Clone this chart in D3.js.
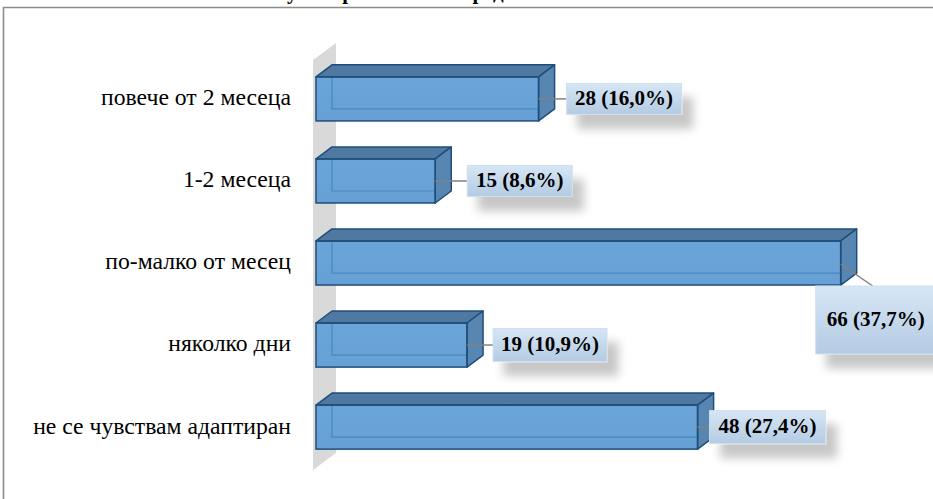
<!DOCTYPE html>
<html><head><meta charset="utf-8">
<script src="https://cdn.jsdelivr.net/npm/d3@7"></script>
<style>
html,body{margin:0;padding:0;background:#fff;overflow:hidden;}
svg{display:block;}
</style></head>
<body>
<svg id="chart" width="933" height="499"></svg>
<script>
// ---- data ----
const categories = ["повече от 2 месеца", "1-2 месеца", "по-малко от месец", "няколко дни", "не се чувствам адаптиран"];
const counts = [28, 15, 66, 19, 48];
const percents = ["16,0%", "8,6%", "37,7%", "10,9%", "27,4%"];
const titleText = "Как свикнахте с университетската среда";

const SERIF = "Liberation Serif";

// ---- layout ----
const svg = d3.select("#chart");
const W = 933, H = 499;
const depthX = 16, depthY = -12;
const x = d3.scaleLinear().domain([0, 70]).range([316, 872.5]);
const y = d3.scaleBand().domain(categories).range([58, 468]).paddingInner(0.463).paddingOuter(0.23);

const defs = svg.append("defs");
const lg = defs.append("linearGradient").attr("id","lblGrad").attr("x1",0).attr("y1",0).attr("x2",0).attr("y2",1);
lg.append("stop").attr("offset","0%").attr("stop-color","#d6e6f5");
lg.append("stop").attr("offset","100%").attr("stop-color","#b4cbe3");
const fg = defs.append("linearGradient").attr("id","frontGrad").attr("x1",0).attr("y1",0).attr("x2",0).attr("y2",1);
fg.append("stop").attr("offset","0%").attr("stop-color","#6ba4d8");
fg.append("stop").attr("offset","100%").attr("stop-color","#67a0d4");
const sh = defs.append("filter").attr("id","shadow").attr("x","-30%").attr("y","-50%").attr("width","180%").attr("height","250%");
sh.append("feDropShadow").attr("dx",11).attr("dy",14).attr("stdDeviation",5).attr("flood-color","#000").attr("flood-opacity",0.22);

svg.append("path").attr("d", `M3.5,${H+5}V7.5H${W+5}`)
  .attr("fill","none").attr("stroke","#8c8c8c").attr("stroke-width",1.6);

// title (clipped at top, as in the reference: only descenders show)
const title = svg.append("text").attr("x",0).attr("y",-1)
  .style("font-family", SERIF)
  .attr("font-weight","bold").attr("font-size",21).attr("fill","#000").text(titleText);
try {
  const idx = titleText.indexOf("у");
  const px = title.node().getStartPositionOfChar(idx).x;
  title.attr("x", 287 - px);
} catch(e) { title.attr("x", 150); }

const wallTop = 60, wallBot = 470, wx0 = 313, wx1 = 336;
svg.append("polygon")
  .attr("points", [[wx0,wallTop],[wx1,wallTop-17],[wx1,wallBot-17],[wx0,wallBot]].map(p=>p.join(",")).join(" "))
  .attr("fill","#d9d9d9");

svg.append("g").selectAll("text").data(categories).join("text")
  .attr("x", 291).attr("y", d => y(d) + y.bandwidth()/2 + 1)
  .attr("text-anchor","end").attr("dominant-baseline","middle")
  .style("font-family", SERIF)
  .attr("font-size",23.7).attr("fill","#000").text(d => d);

const bars = svg.append("g").selectAll("g").data(categories).join("g");
bars.each(function(c, i){
  const g = d3.select(this);
  const x0 = x(0), x1 = x(counts[i]);
  const y0 = y(c), y1 = y(c) + y.bandwidth();
  const stroke = "#1f4e79";
  g.append("rect").attr("x",x0).attr("y",y0).attr("width",x1-x0).attr("height",y1-y0)
    .attr("fill","url(#frontGrad)");
  g.append("path").attr("d",`M${x0+depthX},${y0+depthY}V${y1+depthY}H${x1+depthX}`)
    .attr("fill","none").attr("stroke","#4a86c0").attr("stroke-width",1.2);
  g.append("polygon").attr("points",[[x0,y0],[x0+depthX,y0+depthY],[x1+depthX,y0+depthY],[x1,y0]].map(p=>p.join(",")).join(" "))
    .attr("fill","#4f79a1").attr("stroke",stroke).attr("stroke-width",1.5).attr("stroke-linejoin","round");
  g.append("polygon").attr("points",[[x1,y0],[x1+depthX,y0+depthY],[x1+depthX,y1+depthY],[x1,y1]].map(p=>p.join(",")).join(" "))
    .attr("fill","#5886b3").attr("stroke",stroke).attr("stroke-width",1.5).attr("stroke-linejoin","round");
  g.append("rect").attr("x",x0).attr("y",y0).attr("width",x1-x0).attr("height",y1-y0)
    .attr("fill","none").attr("stroke",stroke).attr("stroke-width",1.5);
});

const labelLayout = [
  {dx: 28, dy: 0, w: 115, h: 31, lead: "h"},
  {dx: 32, dy: 0, w: 105, h: 31, lead: "h"},
  {dx: -25, dy: 57, w: 120, h: 68, lead: "d"},
  {dx: 26, dy: 0, w: 114, h: 33, lead: "h"},
  {dx: 12, dy: 0, w: 116, h: 33, lead: "h"}
];
const lbl = svg.append("g").selectAll("g").data(categories).join("g");
lbl.each(function(c, i){
  const g = d3.select(this);
  const L = labelLayout[i];
  const bx = x(counts[i]);
  const cy = y(c) + y.bandwidth()/2;
  const boxX = bx + L.dx;
  const boxCy = cy + L.dy;
  if (L.lead === "h") {
    g.append("line").attr("x1",bx).attr("y1",cy).attr("x2",boxX).attr("y2",cy)
      .attr("stroke","#808080").attr("stroke-width",1.5);
  } else {
    g.append("line").attr("x1",bx).attr("y1",cy+1).attr("x2",bx+32).attr("y2",boxCy - L.h/2)
      .attr("stroke","#808080").attr("stroke-width",1.5);
  }
  g.append("rect").attr("x",boxX).attr("y",boxCy - L.h/2).attr("width",L.w).attr("height",L.h)
    .attr("fill","url(#lblGrad)").attr("stroke","#cfe0f0").attr("stroke-width",1)
    .attr("filter","url(#shadow)");
  g.append("text").attr("x",boxX + L.w/2).attr("y",boxCy + 1)
    .attr("text-anchor","middle").attr("dominant-baseline","middle")
    .style("font-family", SERIF)
    .attr("font-weight","bold").attr("font-size",21).attr("fill","#000")
    .text(`${counts[i]} (${percents[i]})`);
});
</script>
</body></html>
